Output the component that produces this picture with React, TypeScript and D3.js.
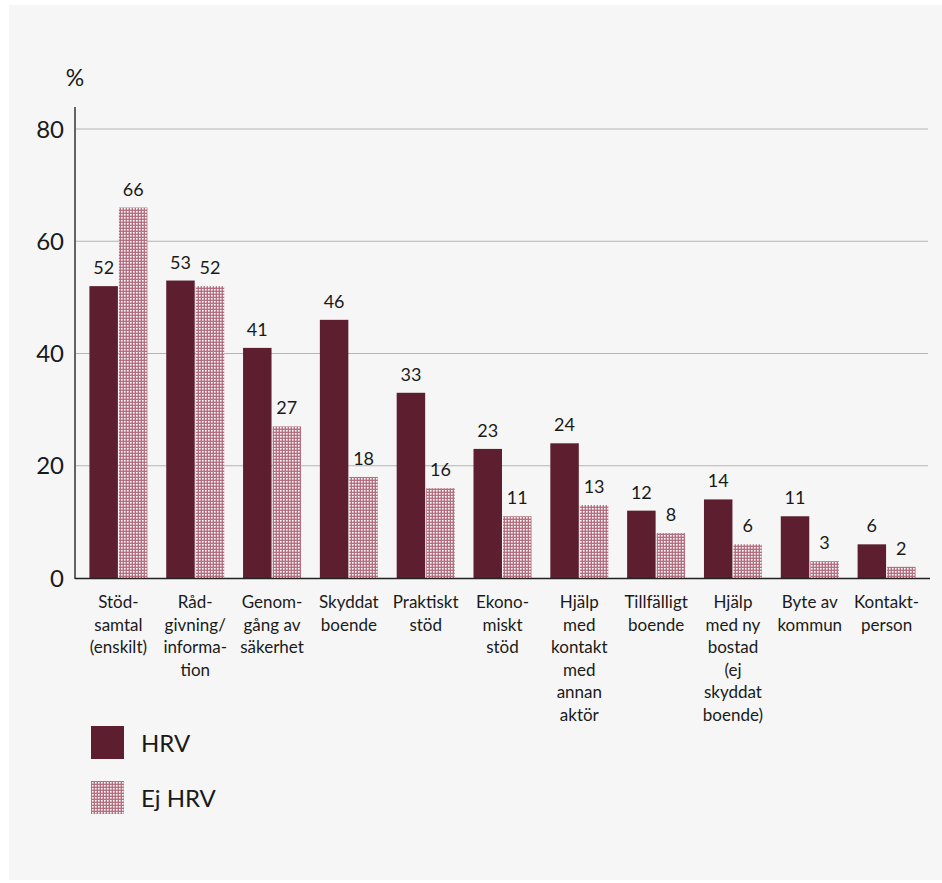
import React from "react";
import * as d3 from "d3";

const categories: string[][] = [
  ["Stöd-", "samtal", "(enskilt)"],
  ["Råd-", "givning/", "informa-", "tion"],
  ["Genom-", "gång av", "säkerhet"],
  ["Skyddat", "boende"],
  ["Praktiskt", "stöd"],
  ["Ekono-", "miskt", "stöd"],
  ["Hjälp", "med", "kontakt", "med", "annan", "aktör"],
  ["Tillfälligt", "boende"],
  ["Hjälp", "med ny", "bostad", "(ej", "skyddat", "boende)"],
  ["Byte av", "kommun"],
  ["Kontakt-", "person"],
];
const hrv = [52, 53, 41, 46, 33, 23, 24, 12, 14, 11, 6];
const ejHrv = [66, 52, 27, 18, 16, 11, 13, 8, 6, 3, 2];
const seriesNames = ["HRV", "Ej HRV"];
const yTicks = [0, 20, 40, 60, 80];

const W = 942;
const H = 883;
const DARK = "#5d1f2f";
const PINK = "#b46f80";
const FONT = "Lato, 'Open Sans', sans-serif";

export default function App() {
  const x = d3
    .scaleBand<number>()
    .domain(categories.map((_, i) => i))
    .range([80, 925])
    .paddingInner(0.245)
    .paddingOuter(0.1225);
  const xs = d3
    .scaleBand<number>()
    .domain([0, 1])
    .range([0, x.bandwidth()])
    .paddingInner(0.035);
  const y = d3.scaleLinear().domain([0, 80]).range([578, 129]);
  const series = [hrv, ejHrv];

  return (
    <svg
      width={W}
      height={H}
      style={{ position: "absolute", left: 0, top: 0, fontFamily: FONT }}
    >
      <defs>
        <pattern id="dots" width={3} height={3} patternUnits="userSpaceOnUse">
          <rect width={3} height={3} fill={PINK} />
          <rect x={1} y={1} width={1.6} height={1.6} fill="#ffffff" />
        </pattern>
      </defs>
      <rect x={0} y={0} width={W} height={H} fill="#ffffff" />
      <rect x={9} y={5} width={W - 9} height={875} fill="#f6f6f6" />

      {/* gridlines */}
      {yTicks
        .filter((t) => t > 0)
        .map((t) => (
          <line
            key={t}
            x1={76}
            x2={928}
            y1={y(t)}
            y2={y(t)}
            stroke="#b4b4b4"
            strokeWidth={1}
          />
        ))}
      {/* tick labels */}
      {yTicks.map((t) => (
        <text
          key={t}
          x={64}
          y={y(t)}
          dy="0.36em"
          textAnchor="end"
          fontSize={24}
          fill="#1a1a1a"
        >
          {t}
        </text>
      ))}
      <text x={75} y={86} textAnchor="middle" fontSize={23} fill="#1a1a1a">
        %
      </text>

      {/* bars */}
      {series.map((vals, si) =>
        vals.map((v, i) => {
          const bx = (x(i) as number) + (xs(si) as number);
          return (
            <g key={`${si}-${i}`}>
              <rect
                x={bx}
                y={y(v)}
                width={xs.bandwidth()}
                height={y(0) - y(v)}
                fill={si === 0 ? DARK : "url(#dots)"}
              />
              <text
                x={bx + xs.bandwidth() / 2}
                y={y(v) - 12}
                textAnchor="middle"
                fontSize={18}
                fill="#1a1a1a"
              >
                {v}
              </text>
            </g>
          );
        })
      )}

      {/* axes */}
      <line x1={75} x2={75} y1={107} y2={579} stroke="#333" strokeWidth={1.5} />
      <line x1={75} x2={930} y1={578.5} y2={578.5} stroke="#222" strokeWidth={1.5} />

      {/* category labels */}
      {categories.map((lines, i) => (
        <text
          key={i}
          x={(x(i) as number) + x.bandwidth() / 2}
          y={608}
          textAnchor="middle"
          fontSize={17}
          fill="#1a1a1a"
        >
          {lines.map((l, j) => (
            <tspan key={j} x={(x(i) as number) + x.bandwidth() / 2} dy={j === 0 ? 0 : 22.5}>
              {l}
            </tspan>
          ))}
        </text>
      ))}

      {/* legend */}
      {seriesNames.map((n, i) => (
        <g key={n} transform={`translate(91, ${726 + i * 55})`}>
          <rect width={33} height={33} fill={i === 0 ? DARK : "url(#dots)"} />
          <text x={50} y={17} dy="0.36em" fontSize={24} fill="#1a1a1a">
            {n}
          </text>
        </g>
      ))}
    </svg>
  );
}
